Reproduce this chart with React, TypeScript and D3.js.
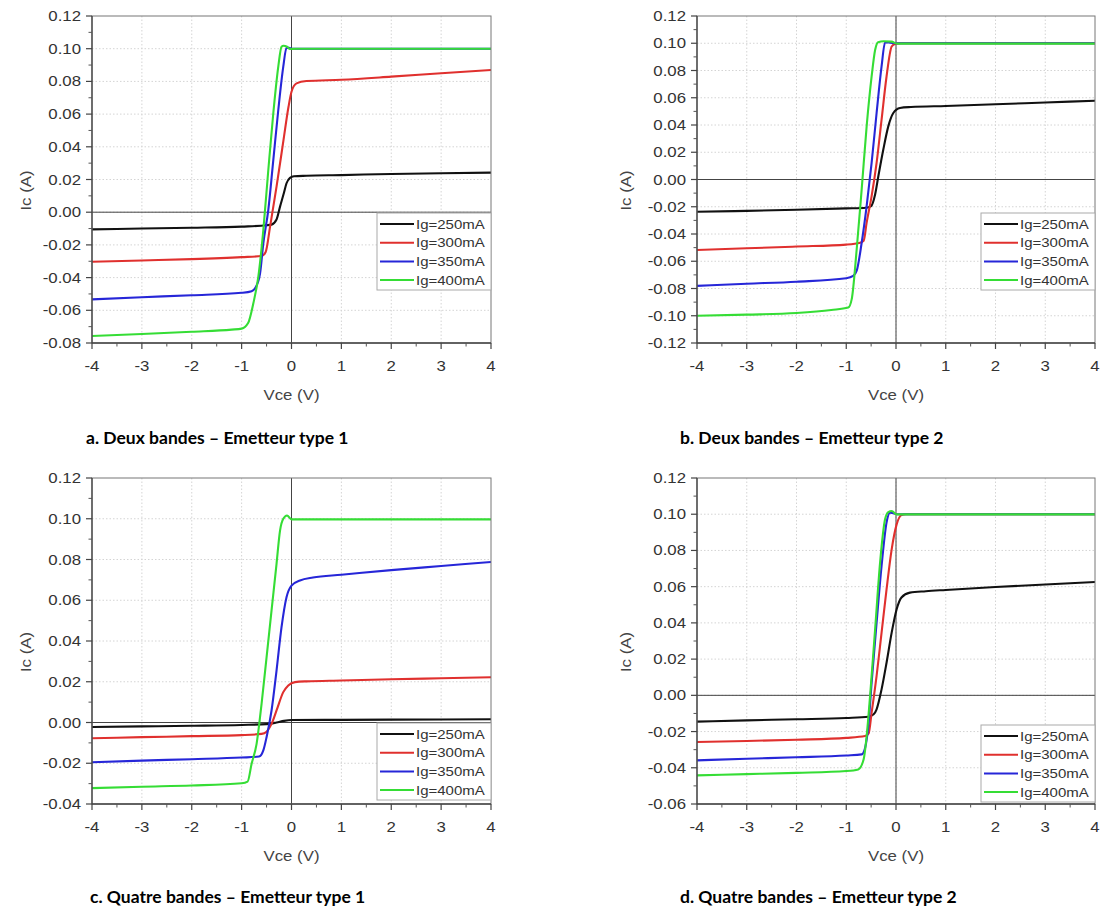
import React from 'react';
import * as d3 from 'd3';

type Pt = [number, number];

// ---------- data ----------
const SERIES_LABELS = ['Ig=250mA', 'Ig=300mA', 'Ig=350mA', 'Ig=400mA'];
const X_TICKS = [-4, -3, -2, -1, 0, 1, 2, 3, 4];
const Y_TICKS_A = [-0.08, -0.06, -0.04, -0.02, 0, 0.02, 0.04, 0.06, 0.08, 0.1, 0.12];
const Y_TICKS_B = [-0.12, -0.1, -0.08, -0.06, -0.04, -0.02, 0, 0.02, 0.04, 0.06, 0.08, 0.1, 0.12];
const Y_TICKS_C = [-0.04, -0.02, 0, 0.02, 0.04, 0.06, 0.08, 0.1, 0.12];
const Y_TICKS_D = [-0.06, -0.04, -0.02, 0, 0.02, 0.04, 0.06, 0.08, 0.1, 0.12];
const CAPTIONS = [
  'a. Deux bandes – Emetteur type 1',
  'b. Deux bandes – Emetteur type 2',
  'c. Quatre bandes – Emetteur type 1',
  'd. Quatre bandes – Emetteur type 2',
];

// Panel a
const A_250: Pt[] = [[-4, -0.0105], [-3, -0.01], [-2, -0.0095], [-1, -0.0088], [-0.5, -0.008], [-0.4, -0.0076], [-0.3, -0.0045], [-0.23, 0.0034], [-0.15, 0.012], [-0.1, 0.0177], [-0.03, 0.021], [0.05, 0.022], [0.3, 0.0223], [1, 0.0227], [2, 0.0234], [3, 0.0238], [4, 0.0242]];
const A_300: Pt[] = [[-4, -0.0303], [-3, -0.0295], [-2, -0.0287], [-1, -0.0275], [-0.6, -0.0268], [-0.52, -0.0245], [-0.43, -0.009], [-0.3, 0.0156], [-0.16, 0.0442], [-0.06, 0.0645], [0, 0.0737], [0.1, 0.0788], [0.3, 0.0802], [1, 0.081], [2, 0.0829], [3, 0.085], [4, 0.087]];
const A_350: Pt[] = [[-4, -0.0533], [-3, -0.052], [-2, -0.0508], [-1, -0.0493], [-0.8, -0.0483], [-0.72, -0.046], [-0.63, -0.0374], [-0.565, -0.019], [-0.465, 0.0014], [-0.365, 0.0319], [-0.265, 0.0625], [-0.165, 0.089], [-0.1, 0.1005], [-0.05, 0.1005], [0, 0.1], [4, 0.1]];
const A_400: Pt[] = [[-4, -0.0757], [-3, -0.0745], [-2, -0.0731], [-1.2, -0.0718], [-1, -0.0712], [-0.87, -0.0678], [-0.765, -0.0557], [-0.665, -0.0394], [-0.565, -0.0109], [-0.465, 0.0258], [-0.365, 0.0605], [-0.265, 0.089], [-0.2, 0.1012], [-0.16, 0.1018], [-0.09, 0.1012], [-0.03, 0.0998], [0.1, 0.1], [4, 0.1]];

// Panel b
const B_250: Pt[] = [[-4, -0.0237], [-3, -0.023], [-2, -0.0222], [-1, -0.0212], [-0.6, -0.0207], [-0.5, -0.0195], [-0.42, -0.011], [-0.355, 0.0024], [-0.255, 0.022], [-0.155, 0.039], [-0.054, 0.0488], [0.08, 0.0525], [0.3, 0.0532], [1, 0.054], [2, 0.0552], [3, 0.0565], [4, 0.0578]];
const B_300: Pt[] = [[-4, -0.0517], [-3, -0.0505], [-2, -0.0492], [-1, -0.0478], [-0.72, -0.0464], [-0.65, -0.045], [-0.59, -0.0317], [-0.49, -0.0122], [-0.39, 0.0122], [-0.29, 0.0439], [-0.19, 0.0756], [-0.087, 0.0976], [-0.02, 0.0995], [0.1, 0.1], [4, 0.1]];
const B_350: Pt[] = [[-4, -0.0781], [-3, -0.0765], [-2, -0.075], [-1, -0.0725], [-0.86, -0.0708], [-0.79, -0.067], [-0.69, -0.0464], [-0.59, -0.0195], [-0.49, 0.0122], [-0.39, 0.0488], [-0.29, 0.083], [-0.22, 0.1005], [-0.15, 0.1005], [0, 0.1], [4, 0.1]];
const B_400: Pt[] = [[-4, -0.1], [-3, -0.0992], [-2, -0.098], [-1.3, -0.0958], [-0.96, -0.094], [-0.89, -0.0878], [-0.79, -0.0512], [-0.69, -0.0073], [-0.59, 0.039], [-0.49, 0.0756], [-0.42, 0.095], [-0.36, 0.1008], [-0.25, 0.1015], [-0.09, 0.1012], [0.02, 0.0997], [0.3, 0.0997], [4, 0.0997]];

// Panel c
const C_250: Pt[] = [[-4, -0.0022], [-3, -0.0019], [-2, -0.0016], [-1, -0.0012], [-0.5, -0.0008], [-0.3, 0.0], [-0.15, 0.0008], [0, 0.0012], [1, 0.0013], [2, 0.0014], [3, 0.0015], [4, 0.0016]];
const C_300: Pt[] = [[-4, -0.0077], [-3, -0.0072], [-2, -0.0067], [-1, -0.0062], [-0.6, -0.0056], [-0.5, -0.0045], [-0.4, -0.0007], [-0.3, 0.0059], [-0.165, 0.0149], [-0.065, 0.0182], [0.07, 0.0198], [0.3, 0.0202], [1, 0.0206], [2, 0.0212], [3, 0.0217], [4, 0.0222]];
const C_350: Pt[] = [[-4, -0.0195], [-3, -0.0187], [-2, -0.018], [-1, -0.0172], [-0.65, -0.0167], [-0.565, -0.0137], [-0.5, -0.0072], [-0.4, 0.0059], [-0.3, 0.0255], [-0.2, 0.0468], [-0.1, 0.0615], [0, 0.0672], [0.17, 0.0697], [0.43, 0.0712], [1, 0.0725], [2, 0.0748], [3, 0.0768], [4, 0.0788]];
const C_400: Pt[] = [[-4, -0.0322], [-3, -0.0315], [-2, -0.0309], [-1, -0.0298], [-0.88, -0.029], [-0.8, -0.0203], [-0.7, -0.0105], [-0.6, 0.0092], [-0.5, 0.032], [-0.4, 0.055], [-0.3, 0.0779], [-0.23, 0.0942], [-0.165, 0.1], [-0.09, 0.1016], [0, 0.0997], [4, 0.0997]];

// Panel d
const D_250: Pt[] = [[-4, -0.0145], [-3, -0.0138], [-2, -0.0132], [-1, -0.0125], [-0.55, -0.0118], [-0.45, -0.0105], [-0.39, -0.0077], [-0.29, 0.0033], [-0.19, 0.018], [-0.087, 0.0346], [0.013, 0.0475], [0.11, 0.054], [0.28, 0.0567], [0.6, 0.0575], [1, 0.0582], [2, 0.0598], [3, 0.0612], [4, 0.0626]];
const D_300: Pt[] = [[-4, -0.0258], [-3, -0.0252], [-2, -0.0245], [-1, -0.0235], [-0.62, -0.0225], [-0.55, -0.021], [-0.49, -0.0096], [-0.39, 0.0107], [-0.29, 0.0346], [-0.19, 0.0585], [-0.087, 0.0806], [0.013, 0.0944], [0.11, 0.0995], [0.2, 0.1], [4, 0.1]];
const D_350: Pt[] = [[-4, -0.0359], [-3, -0.035], [-2, -0.0342], [-1, -0.0332], [-0.69, -0.0326], [-0.62, -0.0289], [-0.55, -0.0151], [-0.49, 0.007], [-0.39, 0.0401], [-0.29, 0.0714], [-0.19, 0.0954], [-0.12, 0.1009], [-0.05, 0.1005], [0.05, 0.1], [4, 0.1]];
const D_400: Pt[] = [[-4, -0.0442], [-3, -0.0435], [-2, -0.0428], [-1, -0.0418], [-0.76, -0.0409], [-0.65, -0.0353], [-0.59, -0.0225], [-0.52, 0.0], [-0.42, 0.0364], [-0.32, 0.0733], [-0.22, 0.0972], [-0.155, 0.1012], [-0.087, 0.1018], [0.013, 0.0999], [4, 0.0999]];

// ---------- style ----------
const COLORS = ['#111111', '#e0302e', '#2626d8', '#35dd35'];
const FONT = '"Liberation Sans", Arial, sans-serif';
const SX = 1.2;

type PanelCfg = {
  series: Pt[][];
  yTicks: number[];
  left: number; right: number; top: number; bottom: number;
  legendTop: number;
  yTitleX: number;
  caption: string; capX: number; capY: number;
};

const PANELS: PanelCfg[] = [
  { series: [A_250, A_300, A_350, A_400], yTicks: Y_TICKS_A, left: 92, right: 491, top: 16, bottom: 343, legendTop: 213, yTitleX: 31, caption: CAPTIONS[0], capX: 86, capY: 444 },
  { series: [B_250, B_300, B_350, B_400], yTicks: Y_TICKS_B, left: 697, right: 1095, top: 16, bottom: 343, legendTop: 213, yTitleX: 631, caption: CAPTIONS[1], capX: 680, capY: 444 },
  { series: [C_250, C_300, C_350, C_400], yTicks: Y_TICKS_C, left: 92, right: 491, top: 478, bottom: 804, legendTop: 723, yTitleX: 31, caption: CAPTIONS[2], capX: 90, capY: 903 },
  { series: [D_250, D_300, D_350, D_400], yTicks: Y_TICKS_D, left: 697, right: 1095, top: 478, bottom: 804, legendTop: 725, yTitleX: 631, caption: CAPTIONS[3], capX: 680, capY: 903 },
];

function fmt(v: number) {
  const s = Math.abs(v).toFixed(2);
  return (v < -1e-9 ? '-' : '') + s;
}

function STxt(props: { x: number; y: number; anchor?: string; size: number; rotate?: number; children: React.ReactNode; fill?: string }) {
  const { x, y, anchor = 'start', size, rotate = 0, children, fill = '#333' } = props;
  return (
    <g transform={`translate(${x},${y}) rotate(${rotate}) scale(${SX},1)`}>
      <text x={0} y={0} textAnchor={anchor} fontSize={size} fontFamily={FONT} fill={fill}>{children}</text>
    </g>
  );
}

function Panel({ cfg }: { cfg: PanelCfg }) {
  const yDom = d3.extent(cfg.yTicks) as [number, number];
  const x = d3.scaleLinear().domain([X_TICKS[0], X_TICKS[X_TICKS.length - 1]]).range([cfg.left, cfg.right]);
  const y = d3.scaleLinear().domain(yDom).range([cfg.bottom, cfg.top]);
  const line = d3.line<Pt>().x(d => x(d[0])).y(d => y(d[1])).curve(d3.curveMonotoneX);
  const yStep = cfg.yTicks[1] - cfg.yTicks[0];
  const yMinor = cfg.yTicks.slice(0, -1).map(v => v + yStep / 2);
  const xMinor = X_TICKS.slice(0, -1).map(v => v + 0.5);
  const lgW = 114, lgH = 77;
  const lgX = cfg.right - lgW;
  const rowGap = 18.7;
  const clipId = `clip-${cfg.left}-${cfg.top}`;
  return (
    <g>
      <defs>
        <clipPath id={clipId}>
          <rect x={cfg.left} y={cfg.top - 2} width={cfg.right - cfg.left} height={cfg.bottom - cfg.top + 4} />
        </clipPath>
      </defs>
      <rect x={cfg.left} y={cfg.top} width={cfg.right - cfg.left} height={cfg.bottom - cfg.top} fill="#fff" />
      {/* grid */}
      {X_TICKS.slice(1, -1).map(v => (
        <line key={'gx' + v} x1={x(v)} x2={x(v)} y1={cfg.top} y2={cfg.bottom} stroke="#d4d4d4" strokeWidth={1} strokeDasharray="1.5,2" />
      ))}
      {cfg.yTicks.slice(1, -1).map(v => (
        <line key={'gy' + v} x1={cfg.left} x2={cfg.right} y1={y(v)} y2={y(v)} stroke="#d4d4d4" strokeWidth={1} strokeDasharray="1.5,2" />
      ))}
      {/* zero lines */}
      <line x1={x(0)} x2={x(0)} y1={cfg.top} y2={cfg.bottom} stroke="#444" strokeWidth={1} />
      <line x1={cfg.left} x2={cfg.right} y1={y(0)} y2={y(0)} stroke="#444" strokeWidth={1} />
      {/* curves */}
      <g clipPath={`url(#${clipId})`}>
        {cfg.series.map((s, i) => (
          <path key={i} d={line(s) || ''} fill="none" stroke={COLORS[i]} strokeWidth={2.1} strokeLinejoin="round" />
        ))}
      </g>
      {/* frame */}
      <rect x={cfg.left} y={cfg.top} width={cfg.right - cfg.left} height={cfg.bottom - cfg.top} fill="none" stroke="#777" strokeWidth={1} />
      <line x1={cfg.left} x2={cfg.left} y1={cfg.top} y2={cfg.bottom} stroke="#444" strokeWidth={1.3} />
      <line x1={cfg.left} x2={cfg.right} y1={cfg.bottom} y2={cfg.bottom} stroke="#444" strokeWidth={1.3} />
      {/* y ticks */}
      {cfg.yTicks.map(v => (
        <g key={'yt' + v}>
          <line x1={cfg.left - 6} x2={cfg.left} y1={y(v)} y2={y(v)} stroke="#444" strokeWidth={1.2} />
          <STxt x={cfg.left - 11} y={y(v) + 5} anchor="end" size={14}>{fmt(v)}</STxt>
        </g>
      ))}
      {yMinor.map(v => (
        <line key={'ym' + v} x1={cfg.left - 3.5} x2={cfg.left} y1={y(v)} y2={y(v)} stroke="#555" strokeWidth={1} />
      ))}
      {/* x ticks */}
      {X_TICKS.map(v => (
        <g key={'xt' + v}>
          <line x1={x(v)} x2={x(v)} y1={cfg.bottom} y2={cfg.bottom + 6} stroke="#444" strokeWidth={1.2} />
          <STxt x={x(v)} y={cfg.bottom + 28} anchor="middle" size={14}>{String(v).replace('−', '-')}</STxt>
        </g>
      ))}
      {xMinor.map(v => (
        <line key={'xm' + v} x1={x(v)} x2={x(v)} y1={cfg.bottom} y2={cfg.bottom + 3.5} stroke="#555" strokeWidth={1} />
      ))}
      {/* axis titles */}
      <STxt x={x(0)} y={cfg.bottom + 57} anchor="middle" size={14} fill="#444">Vce (V)</STxt>
      <STxt x={cfg.yTitleX} y={(cfg.top + cfg.bottom) / 2 + 11} anchor="middle" size={14} rotate={-90} fill="#444">Ic (A)</STxt>
      {/* legend */}
      <rect x={lgX} y={cfg.legendTop} width={lgW} height={lgH} fill="#fff" stroke="#aaa" strokeWidth={1} />
      {SERIES_LABELS.map((lab, i) => {
        const ry = cfg.legendTop + 11 + i * rowGap;
        return (
          <g key={lab}>
            <line x1={lgX + 3} x2={lgX + 37} y1={ry} y2={ry} stroke={COLORS[i]} strokeWidth={2} />
            <STxt x={lgX + 39} y={ry + 4.5} size={12.5} fill="#333">{lab}</STxt>
          </g>
        );
      })}
      {/* caption */}
      <text x={cfg.capX} y={cfg.capY} fontFamily='Lato, "Open Sans", sans-serif' fontWeight={700} fontSize={17.5} fill="#000">{cfg.caption}</text>
    </g>
  );
}

export default function App() {
  return (
    <svg width={1101} height={910} style={{ position: 'absolute', left: 0, top: 0, background: '#fff' }}>
      <rect x={0} y={0} width={1101} height={910} fill="#fff" />
      {PANELS.map((p, i) => <Panel key={i} cfg={p} />)}
    </svg>
  );
}
